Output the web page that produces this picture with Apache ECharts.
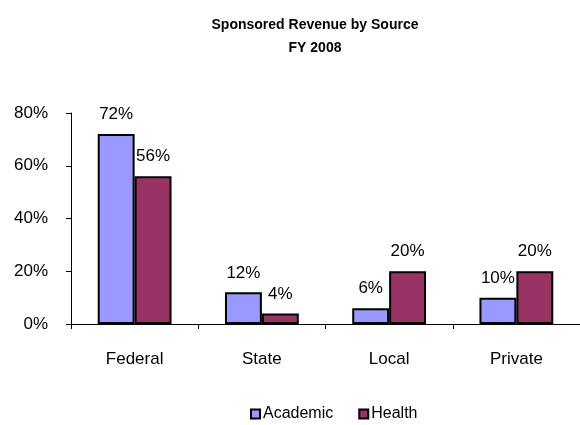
<!DOCTYPE html>
<html>
<head>
<meta charset="utf-8">
<script src="https://cdn.jsdelivr.net/npm/echarts@6/dist/echarts.min.js"></script>
<style>
  html, body { margin: 0; padding: 0; background: #fff; }
  #main { width: 580px; height: 425px; }
</style>
</head>
<body>
<div id="main"></div>
<script>
var categories = ['Federal', 'State', 'Local', 'Private'];
var academic = [72, 12, 6, 10];
var health = [56, 4, 20, 20];
var yTicks = [0, 20, 40, 60, 80];

var chart = echarts.init(document.getElementById('main'));

var font = '"Liberation Sans", Arial, sans-serif';
var labelStyle = {
  show: true,
  position: 'top',
  distance: 11,
  formatter: '{c}%',
  color: '#000',
  fontSize: 17,
  fontFamily: font
};

var option = {
  animation: false,
  title: {
    text: 'Sponsored Revenue by Source\nFY 2008',
    left: 310,
    textAlign: 'center',
    top: 9,
    textStyle: {
      fontSize: 14,
      fontWeight: 'bold',
      fontFamily: font,
      color: '#000',
      lineHeight: 23
    }
  },
  color: ['#9999FF', '#993366'],
  legend: {
    data: ['Academic', 'Health'],
    left: 245,
    top: 401,
    itemWidth: 9,
    itemHeight: 9,
    itemGap: 25,
    icon: 'rect',
    textStyle: { fontSize: 16, fontFamily: font, color: '#000', padding: [0, 0, 0, -2] }
  },
  grid: {
    left: 71,
    top: 113,
    width: 512,
    height: 211
  },
  xAxis: {
    type: 'category',
    data: categories,
    axisLine: { lineStyle: { color: '#000', width: 1 } },
    axisTick: { show: true, length: 5, lineStyle: { color: '#000' } },
    axisLabel: { margin: 27, fontSize: 17, fontFamily: font, color: '#000' }
  },
  yAxis: {
    type: 'value',
    min: yTicks[0],
    max: yTicks[yTicks.length - 1],
    interval: 20,
    axisLine: { show: true, lineStyle: { color: '#000', width: 1 } },
    axisTick: { show: true, length: 5, lineStyle: { color: '#000' } },
    splitLine: { show: false },
    axisLabel: {
      margin: 23,
      fontSize: 17,
      fontFamily: font,
      color: '#000',
      formatter: '{value}%'
    }
  },
  series: [{
    name: 'Academic',
    type: 'bar',
    data: academic,
    barGap: '0%',
    barCategoryGap: '42%',
    itemStyle: { borderColor: '#000', borderWidth: 2 },
    label: labelStyle
  }, {
    name: 'Health',
    type: 'bar',
    data: health,
    itemStyle: { borderColor: '#000', borderWidth: 2 },
    label: labelStyle
  }]
};

chart.setOption(option);
</script>
</body>
</html>
